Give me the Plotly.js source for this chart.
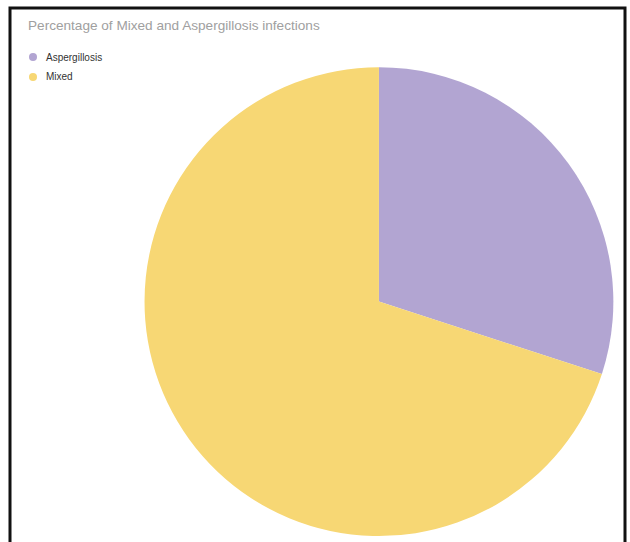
<!DOCTYPE html>
<html>
<head>
<meta charset="utf-8">
<script src="https://cdn.plot.ly/plotly-3.0.1.min.js"></script>
<style>html,body{margin:0;padding:0;background:#fff;}#chart{width:630px;height:542px;}</style>
</head>
<body>
<div id="chart"></div>
<script>
const labels = ["Aspergillosis", "Mixed"];
const values = [30, 70];
const colors = ["#b2a5d2", "#f7d774"];

const W = 630, H = 542;
const traces = [{
  type: "pie",
  labels: labels,
  values: values,
  sort: false,
  direction: "clockwise",
  rotation: 0,
  marker: {colors: colors, line: {width: 0}},
  textinfo: "none",
  hoverinfo: "label+percent",
  showlegend: false,
  domain: {x: [0.227, 0.976], y: [0.011, 0.876]}
}];

// custom legend with round markers
const shapes = [{type: "rect", xref: "paper", yref: "paper",
  x0: 10/W, x1: 625/W, y0: -0.05, y1: 1 - 8/H,
  line: {color: "#111", width: 3}, fillcolor: "rgba(0,0,0,0)", layer: "above"}];
const annotations = [];
labels.forEach((l, i) => {
  const cy = 57 + i * 20;
  shapes.push({type: "circle", xref: "paper", yref: "paper",
    x0: 29/W, x1: 37/W, y0: 1 - (cy + 4)/H, y1: 1 - (cy - 4)/H,
    fillcolor: colors[i], line: {width: 0}});
  annotations.push({xref: "paper", yref: "paper", x: 44/W, y: 1 - cy/H,
    xanchor: "left", yanchor: "middle", showarrow: false, text: l,
    font: {family: "Liberation Sans, Arial, sans-serif", size: 10, color: "#333"}});
});

const layout = {
  width: W, height: H,
  margin: {l: 0, r: 0, t: 0, b: 0},
  paper_bgcolor: "#fff", plot_bgcolor: "#fff",
  title: {text: "Percentage of Mixed and Aspergillosis infections",
          font: {family: "Liberation Sans, Arial, sans-serif", size: 13.6, color: "#a0a0a0"},
          x: 28/W, xanchor: "left", y: 1 - 25/H, yanchor: "middle"},
  showlegend: false,
  shapes: shapes,
  annotations: annotations
};
Plotly.newPlot("chart", traces, layout, {displayModeBar: false, staticPlot: true});
</script>
</body>
</html>
